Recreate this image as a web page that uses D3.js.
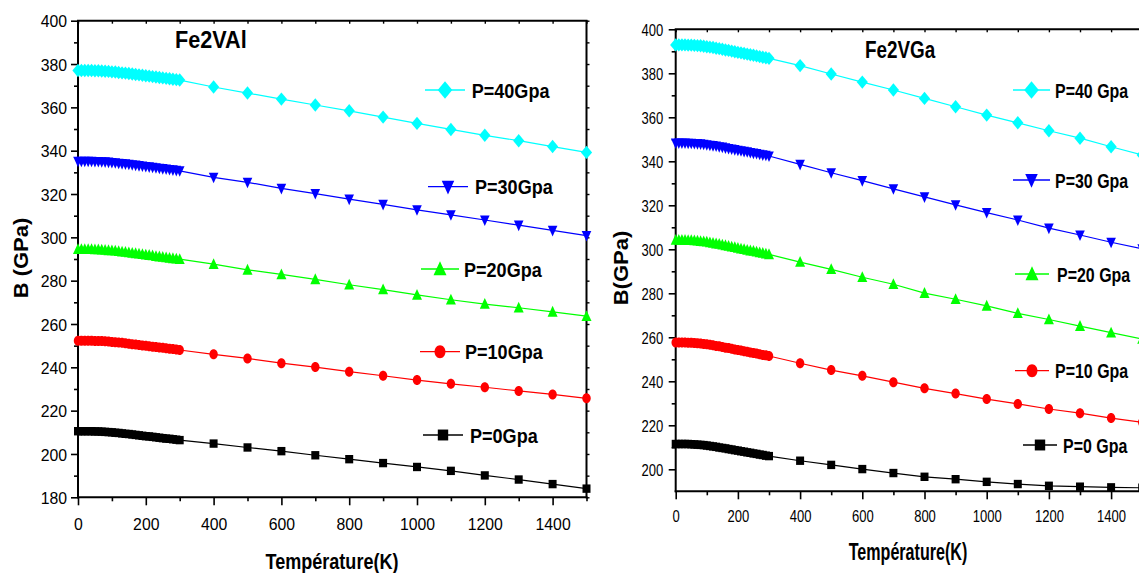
<!DOCTYPE html>
<html><head><meta charset="utf-8">
<script src="https://cdn.jsdelivr.net/npm/d3@7"></script>
<style>body{margin:0;background:#fff}svg{display:block}text{font-family:"Liberation Sans",Arial,sans-serif;fill:#000}</style>
</head><body><svg id="c" width="1139" height="573"></svg>
<script>
// ---------- DATA ----------
const temperatures = [0,10,20,30,40,50,60,70,80,90,100,110,120,130,140,150,160,170,180,190,200,210,220,230,240,250,260,270,280,290,300,
  400,500,600,700,800,900,1000,1100,1200,1300,1400,1500];
const xTicks = [0,200,400,600,800,1000,1200,1400];
const xMinorTicks = [100,300,500,700,900,1100,1300,1500];
const yTicksAl = [180,200,220,240,260,280,300,320,340,360,380,400];
const yTicksGa = [200,220,240,260,280,300,320,340,360,380,400];
const legendAl = ["P=0Gpa","P=10Gpa","P=20Gpa","P=30Gpa","P=40Gpa"];
const legendGa = ["P=0 Gpa","P=10 Gpa","P=20 Gpa","P=30 Gpa","P=40 Gpa"];

// Fe2VAl
const al_P0  = [210.5,210.5,210.5,210.5,210.5,210.4,210.4,210.3,210.2,210.1,210.0,209.8,209.7,209.5,209.3,209.2,209.0,208.8,208.6,208.4,208.2,208.1,207.9,207.7,207.5,207.3,207.1,207.0,206.8,206.6,206.4,
  204.8,203.0,201.3,199.4,197.6,195.8,194.0,192.2,190.1,188.2,186.1,184.0];
const al_P10 = [252.3,252.3,252.3,252.3,252.3,252.2,252.2,252.1,252.0,251.9,251.7,251.6,251.4,251.3,251.1,250.9,250.7,250.5,250.3,250.1,249.9,249.7,249.5,249.4,249.2,249.0,248.8,248.6,248.4,248.2,248.0,
  246.0,244.1,241.9,240.1,238.0,236.1,234.1,232.4,230.8,229.1,227.5,225.7];
const al_P20 = [294.5,294.5,294.5,294.5,294.5,294.4,294.4,294.3,294.2,294.0,293.9,293.8,293.6,293.4,293.2,293.0,292.8,292.6,292.4,292.2,292.0,291.8,291.6,291.3,291.1,290.9,290.7,290.5,290.3,290.1,289.9,
  287.6,285.0,282.9,280.6,278.1,275.9,273.4,271.2,269.2,267.5,265.6,263.6];
const al_P30 = [335.1,335.1,335.1,335.1,335.1,335.0,335.0,334.9,334.8,334.7,334.5,334.4,334.2,334.0,333.9,333.7,333.5,333.3,333.1,332.9,332.7,332.5,332.3,332.1,331.9,331.7,331.5,331.3,331.1,330.9,330.7,
  327.7,325.4,322.6,320.2,317.6,315.2,312.7,310.4,308.0,305.6,303.2,300.8];
const al_P40 = [377.0,377.0,377.0,377.0,377.0,376.9,376.9,376.8,376.7,376.6,376.4,376.3,376.1,375.9,375.8,375.6,375.4,375.2,375.0,374.8,374.6,374.4,374.2,374.0,373.8,373.6,373.4,373.2,373.0,372.8,372.6,
  369.4,366.6,363.8,361.1,358.4,355.5,352.6,349.8,347.1,344.6,341.9,339.2];
// Fe2VGa
const ga_P0  = [211.5,211.5,211.5,211.5,211.5,211.4,211.3,211.2,211.1,211.0,210.8,210.6,210.4,210.2,209.9,209.7,209.5,209.2,209.0,208.7,208.5,208.2,208.0,207.7,207.5,207.2,207.0,206.7,206.5,206.2,206.0,
  203.9,202.0,200.1,198.3,196.6,195.5,194.3,193.3,192.5,192.1,191.8,191.6];
const ga_P10 = [257.6,257.6,257.6,257.6,257.5,257.5,257.4,257.3,257.2,257.0,256.8,256.6,256.4,256.1,255.9,255.6,255.3,255.1,254.8,254.5,254.2,254.0,253.7,253.4,253.1,252.9,252.6,252.3,252.0,251.8,251.5,
  248.2,245.1,242.5,239.6,236.8,234.4,231.9,229.7,227.4,225.5,223.3,221.4];
const ga_P20 = [304.2,304.2,304.2,304.2,304.1,304.1,304.0,303.9,303.7,303.6,303.4,303.1,302.9,302.6,302.4,302.1,301.8,301.5,301.2,300.9,300.6,300.3,300.0,299.7,299.4,299.2,298.9,298.6,298.3,298.0,297.7,
  294.2,290.9,287.3,284.1,280.1,277.3,274.3,270.9,268.1,265.1,262.1,259.2];
const ga_P30 = [348.3,348.3,348.3,348.3,348.2,348.2,348.1,348.0,347.9,347.7,347.5,347.3,347.1,346.9,346.6,346.4,346.1,345.8,345.6,345.3,345.0,344.8,344.5,344.3,344.0,343.7,343.5,343.2,342.9,342.7,342.4,
  338.6,334.8,331.2,327.5,323.8,320.2,316.7,313.3,309.6,306.5,303.2,300.2];
const ga_P40 = [392.9,392.9,392.9,392.9,392.8,392.8,392.7,392.6,392.5,392.3,392.1,391.9,391.7,391.4,391.2,390.9,390.6,390.4,390.1,389.8,389.5,389.3,389.0,388.7,388.4,388.2,387.9,387.6,387.3,387.1,386.8,
  383.5,379.7,376.0,372.4,368.6,364.8,361.0,357.5,353.9,350.5,346.6,342.9];

const colors = ["#000000","#ff0000","#00ff00","#0000ff","#00ffff"];
const shapes = ["square","circle","triUp","triDown","diamond"];

// ---------- DRAW ----------
const svg = d3.select("#c");
const FONT = '"Liberation Sans",Arial,sans-serif';
const fmt = d3.format("d");

function markerPath(shape, s){
  const p = d3.path();
  if(shape==="square"){ p.rect(-4*s,-4.2*s,8*s,8.4*s); }
  else if(shape==="circle"){
    const rx=4.2*s, ry=5*s, k=0.5523;
    p.moveTo(rx,0);
    p.bezierCurveTo(rx,ry*k, rx*k,ry, 0,ry);
    p.bezierCurveTo(-rx*k,ry, -rx,ry*k, -rx,0);
    p.bezierCurveTo(-rx,-ry*k, -rx*k,-ry, 0,-ry);
    p.bezierCurveTo(rx*k,-ry, rx,-ry*k, rx,0);
    p.closePath();
  }
  else if(shape==="triUp"){ p.moveTo(0,-6*s); p.lineTo(5*s,4.8*s); p.lineTo(-5*s,4.8*s); p.closePath(); }
  else if(shape==="triDown"){ p.moveTo(0,6*s); p.lineTo(4.8*s,-4.6*s); p.lineTo(-4.8*s,-4.6*s); p.closePath(); }
  else { p.moveTo(0,-6.7*s); p.lineTo(5.6*s,0); p.lineTo(0,6.7*s); p.lineTo(-5.6*s,0); p.closePath(); }
  return p.toString();
}

function sText(g, str, x, y, size, sx, opts={}){
  const t = g.append("text")
    .attr("transform", `translate(${x},${y}) scale(${sx},1)` + (opts.rotate?` rotate(${opts.rotate})`:""))
    .attr("font-size", size).attr("font-family", FONT)
    .attr("text-anchor", opts.anchor||"start")
    .attr("font-weight", opts.bold?"bold":"normal")
    .text(str);
  if(opts.dy) t.attr("dy", opts.dy);
  return t;
}

function drawPanel(cfg){
  const g = svg.append("g");
  const x = d3.scaleLinear().domain([0,1500]).range(cfg.xr);
  const y = d3.scaleLinear().domain(cfg.yd).range(cfg.yr);
  const [x0,x1] = cfg.xr, [yb,yt] = cfg.yr;

  // bottom axis
  const bx = g.append("g").attr("transform",`translate(0,${yb})`)
    .call(d3.axisBottom(x).tickValues(xTicks).tickFormat(fmt).tickSize(8).tickSizeOuter(0));
  bx.select(".domain").remove();
  bx.selectAll("line").attr("stroke-width",1.6);
  bx.selectAll("text").attr("y",0).attr("dy",0).attr("font-size",cfg.tickFs).attr("font-family",FONT)
    .attr("transform",`translate(0,${cfg.xLabOff}) scale(${cfg.sx},1)`);
  const bxm = g.append("g").attr("transform",`translate(0,${yb})`)
    .call(d3.axisBottom(x).tickValues(xMinorTicks).tickSize(4).tickFormat("").tickSizeOuter(0));
  bxm.select(".domain").remove(); bxm.selectAll("line").attr("stroke-width",1.6);

  // left axis
  const ly = g.append("g").attr("transform",`translate(${x0},0)`)
    .call(d3.axisLeft(y).tickValues(cfg.yTicks).tickFormat(fmt).tickSize(7).tickSizeOuter(0));
  ly.select(".domain").remove();
  ly.selectAll("line").attr("stroke-width",1.6);
  ly.selectAll("text").attr("x",0).attr("dy","0.36em").attr("font-size",cfg.tickFs).attr("font-family",FONT)
    .attr("transform",`translate(${-cfg.yLabGap},0) scale(${cfg.sx},1)`);
  const lym = g.append("g").attr("transform",`translate(${x0},0)`)
    .call(d3.axisLeft(y).tickValues(cfg.yMinor).tickSize(4).tickFormat("").tickSizeOuter(0));
  lym.select(".domain").remove(); lym.selectAll("line").attr("stroke-width",1.6);

  // top axis (inward ticks)
  const tx = g.append("g").attr("transform",`translate(0,${yt})`)
    .call(d3.axisBottom(x).tickValues(xTicks.concat(xMinorTicks)).tickSize(3).tickFormat("").tickSizeOuter(0));
  tx.select(".domain").remove(); tx.selectAll("line").attr("stroke-width",1.4);

  // right axis
  if(cfg.rightAxis){
    const ry = g.append("g").attr("transform",`translate(${x1},0)`)
      .call(d3.axisRight(y).tickValues(d3.range(cfg.yd[0],cfg.yd[1]+1,10)).tickSize(3).tickFormat("").tickSizeOuter(0));
    ry.select(".domain").remove(); ry.selectAll("line").attr("stroke-width",1.4);
  }
  // frame lines
  g.append("line").attr("x1",x0).attr("x2",x0).attr("y1",yt).attr("y2",yb+1).attr("stroke","#000").attr("stroke-width",2);
  g.append("line").attr("x1",x0-1).attr("x2",x1+1).attr("y1",yb).attr("y2",yb).attr("stroke","#000").attr("stroke-width",2);
  g.append("line").attr("x1",x0-1).attr("x2",x1+1).attr("y1",yt).attr("y2",yt).attr("stroke","#000").attr("stroke-width",2);
  if(cfg.rightAxis) g.append("line").attr("x1",x1).attr("x2",x1).attr("y1",yt).attr("y2",yb+1).attr("stroke","#000").attr("stroke-width",2);

  // series
  const line = d3.line().x((d,i)=>x(temperatures[i])).y(d=>y(d));
  cfg.series.forEach((vals,k)=>{
    g.append("path").attr("d",line(vals)).attr("fill","none").attr("stroke",colors[k]).attr("stroke-width",1.2);
    g.append("g").selectAll("path").data(vals).join("path")
      .attr("transform",(d,i)=>`translate(${x(temperatures[i])},${y(d)})`)
      .attr("d",markerPath(shapes[k],1)).attr("fill",colors[k]);
  });

  // legend
  cfg.legend.forEach((L,k)=>{
    g.append("line").attr("x1",L.x1).attr("x2",L.x2).attr("y1",L.y).attr("y2",L.y).attr("stroke",colors[k]).attr("stroke-width",1.3);
    g.append("path").attr("transform",`translate(${(L.x1+L.x2)/2},${L.y})`).attr("d",markerPath(shapes[k],1.3)).attr("fill",colors[k]);
    sText(g, cfg.legendText[k], L.tx, L.y, cfg.legFs, cfg.legSx, {bold:true, dy:"0.36em"});
  });

  // titles & labels
  sText(g, cfg.title, cfg.titlePos[0], cfg.titlePos[1], 23, cfg.titleSx, {bold:true});
  sText(g, "Température(K)", cfg.xLabPos[0], cfg.xLabPos[1], cfg.xLabFs, cfg.xLabSx, {bold:true, anchor:"middle"});
  sText(g, cfg.yLab, cfg.yLabPos[0], cfg.yLabPos[1], 22, 0.9, {bold:true, anchor:"middle", rotate:-90});
}

drawPanel({
  xr:[78,586.5], yd:[180,400], yr:[497.3,20.7],
  yTicks:yTicksAl, yMinor:[190,210,230,250,270,290,310,330,350,370,390],
  tickFs:17, sx:0.93, xLabOff:33, yLabGap:11, rightAxis:true,
  series:[al_P0,al_P10,al_P20,al_P30,al_P40],
  legendText:legendAl, legFs:21, legSx:0.86,
  legend:[
    {x1:423,x2:463,y:435,tx:470},
    {x1:420,x2:460,y:351.7,tx:465},
    {x1:421,x2:459,y:269,tx:464},
    {x1:428,x2:468,y:186.7,tx:475},
    {x1:425,x2:465,y:90,tx:471.7}],
  title:"Fe2VAl", titlePos:[175,48.3], titleSx:0.94,
  xLabPos:[332,569], xLabFs:22, xLabSx:0.82,
  yLab:"B (GPa)", yLabPos:[28,258]
});
drawPanel({
  xr:[675.7,1142.2], yd:[190,400], yr:[491.3,29.3],
  yTicks:yTicksGa, yMinor:[210,230,250,270,290,310,330,350,370,390],
  tickFs:16.7, sx:0.78, xLabOff:31, yLabGap:12.5, rightAxis:false,
  series:[ga_P0,ga_P10,ga_P20,ga_P30,ga_P40],
  legendText:legendGa, legFs:21, legSx:0.76,
  legend:[
    {x1:1023,x2:1057,y:445,tx:1063},
    {x1:1015,x2:1049,y:370.7,tx:1055},
    {x1:1015,x2:1049,y:274,tx:1057},
    {x1:1013,x2:1050,y:180,tx:1055},
    {x1:1013,x2:1050,y:90,tx:1055}],
  title:"Fe2VGa", titlePos:[865,58], titleSx:0.82,
  xLabPos:[908,560], xLabFs:23, xLabSx:0.7,
  yLab:"B(GPa)", yLabPos:[628,268]
});
</script></body></html>
